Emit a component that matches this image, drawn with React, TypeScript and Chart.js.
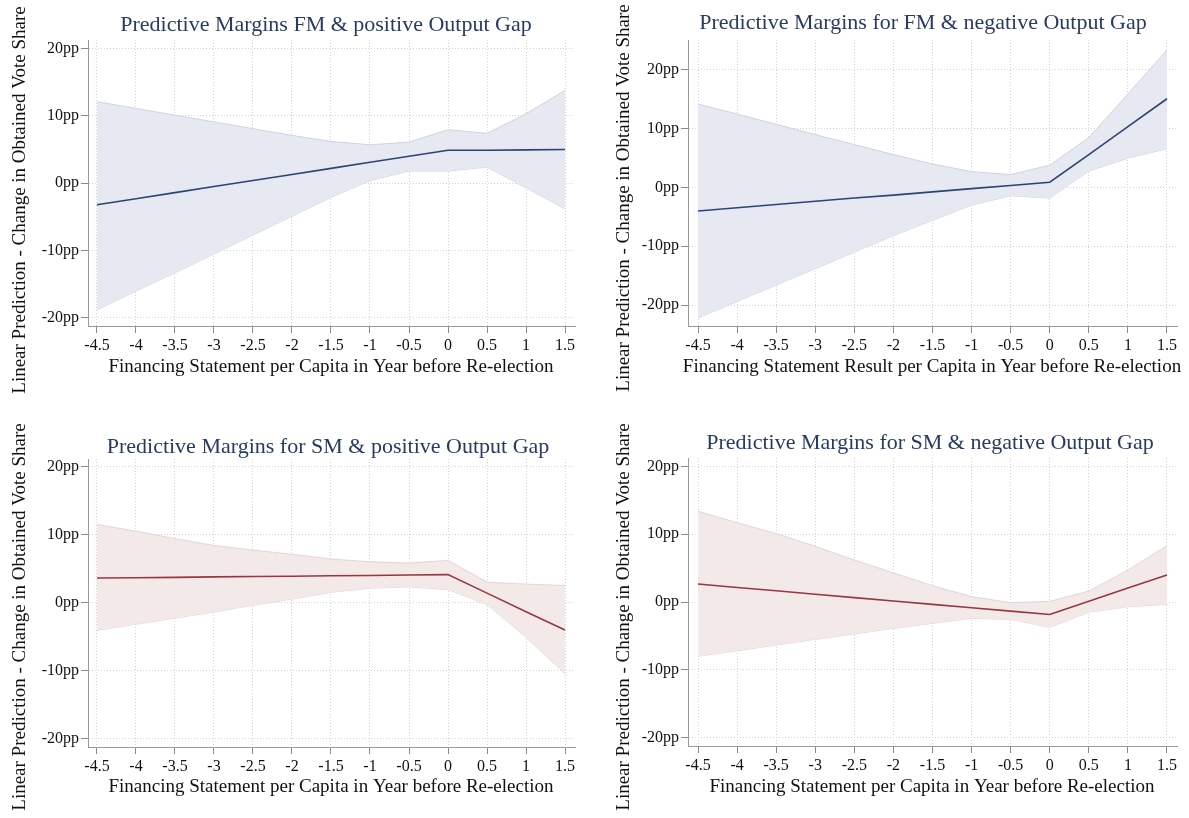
import React, { useEffect, useRef } from "react";
import { Chart, registerables } from "chart.js";

Chart.register(...registerables);

// Financing statement per capita (x positions of the margins)
const xValues = [-4.5, -4, -3.5, -3, -2.5, -2, -1.5, -1, -0.5, 0, 0.5, 1, 1.5];
const xTickValues = [-4.5, -4, -3.5, -3, -2.5, -2, -1.5, -1, -0.5, 0, 0.5, 1, 1.5];
const yTickValues = [-20, -10, 0, 10, 20];

// FM & positive output gap: prediction and 95% CI (pp)
const fmPosEst = [-3.2, -2.3, -1.4, -0.5, 0.4, 1.3, 2.2, 3.1, 4.0, 4.9, 4.9, 4.95, 5.0];
const fmPosHi = [12.1, 11.1, 10.1, 9.1, 8.1, 7.1, 6.2, 5.7, 6.1, 7.95, 7.4, 10.3, 13.8];
const fmPosLo = [-18.8, -16.0, -13.3, -10.5, -7.7, -4.9, -2.1, 0.4, 1.8, 1.8, 2.4, -0.7, -3.8];

// FM & negative output gap
const fmNegEst = [-4.0, -3.45, -2.9, -2.35, -1.8, -1.3, -0.75, -0.2, 0.35, 0.9, 5.6, 10.35, 15.1];
const fmNegHi = [14.2, 12.5, 10.75, 9.0, 7.3, 5.6, 4.0, 2.7, 2.2, 3.8, 8.5, 15.9, 23.4];
const fmNegLo = [-22.2, -19.4, -16.6, -13.8, -11.0, -8.2, -5.6, -3.0, -1.4, -1.8, 2.8, 5.0, 6.6];

// SM & positive output gap
const smPosEst = [3.6, 3.65, 3.7, 3.77, 3.82, 3.87, 3.93, 3.98, 4.04, 4.1, 1.38, -1.35, -4.05];
const smPosHi = [11.5, 10.5, 9.4, 8.4, 7.7, 7.1, 6.4, 6.0, 5.8, 6.2, 3.0, 2.7, 2.5];
const smPosLo = [-4.1, -3.2, -2.3, -1.4, -0.4, 0.5, 1.5, 2.1, 2.3, 1.9, -0.3, -5.1, -10.5];

// SM & negative output gap
const smNegEst = [2.65, 2.15, 1.65, 1.15, 0.65, 0.15, -0.35, -0.85, -1.35, -1.85, 0.1, 2.05, 4.0];
const smNegHi = [13.4, 11.7, 10.1, 8.2, 6.2, 4.3, 2.4, 0.8, -0.1, 0.1, 1.6, 4.7, 8.3];
const smNegLo = [-8.0, -7.2, -6.35, -5.5, -4.7, -3.9, -3.15, -2.4, -2.55, -3.75, -1.5, -0.7, -0.35];

const titles = [
  "Predictive Margins FM & positive Output Gap",
  "Predictive Margins for FM & negative Output Gap",
  "Predictive Margins for SM & positive Output Gap",
  "Predictive Margins for SM & negative Output Gap",
];
const xTitles = [
  "Financing Statement per Capita in Year before Re-election",
  "Financing Statement Result per Capita in Year before Re-election",
  "Financing Statement per Capita in Year before Re-election",
  "Financing Statement per Capita in Year before Re-election",
];
const yTitle = "Linear Prediction - Change in Obtained Vote Share";

const SERIF = "'Liberation Serif', 'Times New Roman', serif";

const blueStyle = { line: "#2c4474", fill: "#e6e9f1", edge: "#cdd3e2" };
const redStyle = { line: "#9a3640", fill: "#f3e9e9", edge: "#e6d3d5" };

type Panel = {
  left: number; top: number; w: number; h: number;
  padTop: number; padRight: number; yAxisW: number; xAxisH: number;
  xMin: number; xMax: number; yMin: number; yMax: number;
  titlePos: [number, number]; xTitlePos: [number, number]; yTitlePos: [number, number];
  est: number[]; hi: number[]; lo: number[];
  style: typeof blueStyle;
  title: string; xTitle: string;
};

const panels: Panel[] = [
  {
    left: 0, top: 0, w: 594, h: 405, padTop: 40, padRight: 19, yAxisW: 88, xAxisH: 79,
    xMin: -4.615, xMax: 1.628, yMin: -21.2, yMax: 21.26,
    titlePos: [326, 25], xTitlePos: [331, 367], yTitlePos: [20, 200],
    est: fmPosEst, hi: fmPosHi, lo: fmPosLo, style: blueStyle, title: titles[0], xTitle: xTitles[0],
  },
  {
    left: 600, top: 0, w: 589, h: 405, padTop: 40, padRight: 12, yAxisW: 88, xAxisH: 79,
    xMin: -4.628, xMax: 1.628, yMin: -23.57, yMax: 25.1,
    titlePos: [323, 23], xTitlePos: [332, 367], yTitlePos: [24, 198],
    est: fmNegEst, hi: fmNegHi, lo: fmNegLo, style: blueStyle, title: titles[1], xTitle: xTitles[1],
  },
  {
    left: 0, top: 409, w: 594, h: 409, padTop: 50, padRight: 19, yAxisW: 88, xAxisH: 71,
    xMin: -4.615, xMax: 1.628, yMin: -21.28, yMax: 21.13,
    titlePos: [328, 38], xTitlePos: [331, 378], yTitlePos: [20, 208],
    est: smPosEst, hi: smPosHi, lo: smPosLo, style: redStyle, title: titles[2], xTitle: xTitles[2],
  },
  {
    left: 600, top: 409, w: 589, h: 409, padTop: 49, padRight: 12, yAxisW: 88, xAxisH: 72,
    xMin: -4.628, xMax: 1.628, yMin: -21.25, yMax: 21.25,
    titlePos: [330, 34], xTitlePos: [332, 378], yTitlePos: [24, 208],
    est: smNegEst, hi: smNegHi, lo: smNegLo, style: redStyle, title: titles[3], xTitle: xTitles[3],
  },
];

// Draws the panel heading and both axis captions
const panelTextPlugin = {
  id: "panelText",
  afterDraw(chart: any, _args: any, opts: any) {
    const ctx = chart.ctx as CanvasRenderingContext2D;
    ctx.save();
    ctx.textAlign = "center";
    ctx.textBaseline = "middle";

    ctx.fillStyle = "#273b63";
    ctx.font = `22px ${SERIF}`;
    ctx.fillText(opts.title, opts.titlePos[0], opts.titlePos[1]);

    ctx.fillStyle = "#111";
    ctx.font = `19px ${SERIF}`;
    ctx.fillText(opts.xTitle, opts.xTitlePos[0], opts.xTitlePos[1]);

    ctx.translate(opts.yTitlePos[0], opts.yTitlePos[1]);
    ctx.rotate(-Math.PI / 2);
    ctx.fillText(opts.yTitle, 0, 0);
    ctx.restore();
  },
};

function toPoints(ys: number[]) {
  return xValues.map((x, i) => ({ x, y: ys[i] }));
}

function formatX(v: number) {
  return String(v);
}

function makeConfig(p: Panel): any {
  const gridCommon = {
    color: "#d2d2d2",
    lineWidth: 1,
    tickColor: "#8a8a8a",
    tickLength: 7,
    tickWidth: 1,
  };
  const borderCommon = { color: "#9a9a9a", width: 1, dash: [1, 2] };
  return {
    type: "line",
    data: {
      datasets: [
        // confidence band: upper edge filled down to the lower edge
        {
          data: toPoints(p.hi),
          borderColor: p.style.edge,
          borderWidth: 1,
          backgroundColor: p.style.fill,
          fill: "+1",
          pointRadius: 0,
          tension: 0,
          order: 2,
        },
        {
          data: toPoints(p.lo),
          borderColor: p.style.edge,
          borderWidth: 1,
          backgroundColor: p.style.fill,
          fill: false,
          pointRadius: 0,
          tension: 0,
          order: 2,
        },
        // point prediction, drawn on top of the band
        {
          data: toPoints(p.est),
          borderColor: p.style.line,
          borderWidth: 1.6,
          fill: false,
          pointRadius: 0,
          tension: 0,
          order: 0,
        },
      ],
    },
    options: {
      animation: false,
      responsive: false,
      maintainAspectRatio: false,
      events: [],
      layout: { padding: { top: p.padTop, right: p.padRight, left: 0, bottom: 0 } },
      plugins: {
        legend: { display: false },
        tooltip: { enabled: false },
        title: { display: false },
        panelText: {
          title: p.title,
          xTitle: p.xTitle,
          yTitle,
          titlePos: p.titlePos,
          xTitlePos: p.xTitlePos,
          yTitlePos: p.yTitlePos,
        },
      },
      scales: {
        x: {
          type: "linear",
          min: p.xMin,
          max: p.xMax,
          afterBuildTicks: (scale: any) => {
            scale.ticks = xTickValues.map((v) => ({ value: v }));
          },
          afterFit: (scale: any) => {
            scale.height = p.xAxisH;
          },
          ticks: {
            autoSkip: false,
            maxRotation: 0,
            minRotation: 0,
            padding: 3,
            color: "#111",
            font: { family: SERIF, size: 16 },
            callback: (v: number) => formatX(v),
          },
          grid: gridCommon,
          border: borderCommon,
        },
        y: {
          type: "linear",
          min: p.yMin,
          max: p.yMax,
          afterBuildTicks: (scale: any) => {
            scale.ticks = yTickValues.map((v) => ({ value: v }));
          },
          afterFit: (scale: any) => {
            scale.width = p.yAxisW;
          },
          ticks: {
            padding: 2,
            color: "#111",
            font: { family: SERIF, size: 16 },
            callback: (v: number) => `${v}pp`,
          },
          grid: gridCommon,
          border: borderCommon,
        },
      },
    },
    plugins: [panelTextPlugin],
  };
}

export default function App() {
  const refs = useRef<(HTMLCanvasElement | null)[]>([]);

  useEffect(() => {
    const charts = panels.map((p, i) => new Chart(refs.current[i] as HTMLCanvasElement, makeConfig(p)));
    return () => charts.forEach((c) => c.destroy());
  }, []);

  return (
    <div
      style={{
        position: "absolute",
        left: 0,
        top: 0,
        width: 1189,
        height: 818,
        background: "#ffffff",
        overflow: "hidden",
      }}
    >
      {panels.map((p, i) => (
        <canvas
          key={i}
          ref={(el) => {
            refs.current[i] = el;
          }}
          width={p.w}
          height={p.h}
          style={{
            position: "absolute",
            left: p.left,
            top: p.top,
            width: p.w,
            height: p.h,
            display: "block",
          }}
        />
      ))}
    </div>
  );
}
